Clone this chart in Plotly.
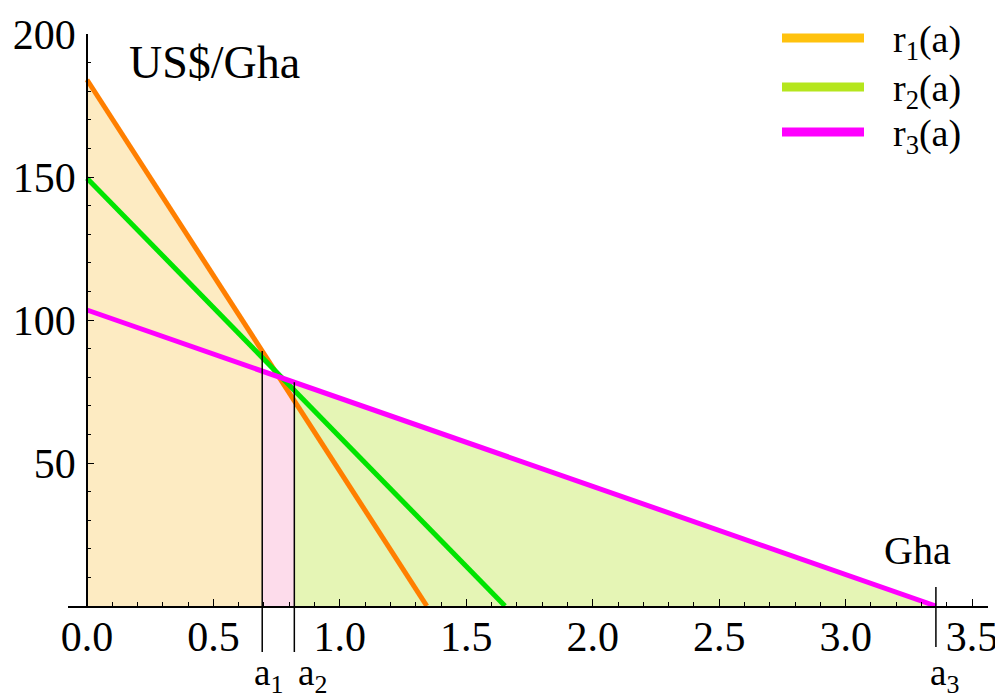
import numpy as np
import plotly.graph_objects as go

# ---- data ----
a_r1 = [0.0, 1.344]
r1 = [184.0, 0.0]
a_r2 = [0.0, 1.653]
r2 = [149.6, 0.0]
a_r3 = [0.0, 3.357]
r3 = [103.5, 0.0]

a1, a2, a3 = 0.693, 0.820, 3.357

x_tickvals = [0.0, 0.5, 1.0, 1.5, 2.0, 2.5, 3.0, 3.5]
y_tickvals = [50, 100, 150, 200]
series_names = ["r<sub>1</sub>(a)", "r<sub>2</sub>(a)", "r<sub>3</sub>(a)"]

line_colors = ["#FF7F00", "#00E400", "#FF00FF"]
legend_colors = ["#FFC20E", "#B5E61D", "#FF00FF"]
fill_colors = ["#FDEBC2", "#FDDCEB", "#E5F5B5"]

FONT = "Liberation Serif"

OFF = 8  # page body margin
W, H = 1003 - OFF, 698 - OFF
ML, MT = 68 - OFF, 34 - OFF
PLOT_W, PLOT_H = 920, 572
MR = W - ML - PLOT_W
MB = H - MT - PLOT_H

def f(a_arr, r_arr, x):
    return float(np.interp(x, a_arr, r_arr))

def px(xpix):
    return (xpix - OFF - ML) / PLOT_W

def py(ypix):
    return 1 - (ypix - OFF - MT) / PLOT_H

fig = go.Figure()

# fills
fig.add_trace(go.Scatter(x=[0, 0, a1, a1], y=[0, f(a_r1, r1, 0), f(a_r1, r1, a1), 0],
                         fill="toself", fillcolor=fill_colors[0], line=dict(width=0),
                         mode="lines", showlegend=False, hoverinfo="skip"))
fig.add_trace(go.Scatter(x=[a1, a1, a2, a2], y=[0, f(a_r3, r3, a1), f(a_r3, r3, a2), 0],
                         fill="toself", fillcolor=fill_colors[1], line=dict(width=0),
                         mode="lines", showlegend=False, hoverinfo="skip"))
fig.add_trace(go.Scatter(x=[a2, a2, a3], y=[0, f(a_r3, r3, a2), f(a_r3, r3, a3)],
                         fill="toself", fillcolor=fill_colors[2], line=dict(width=0),
                         mode="lines", showlegend=False, hoverinfo="skip"))

# lines
for ax_, ry_, c in [(a_r1, r1, line_colors[0]), (a_r2, r2, line_colors[1]), (a_r3, r3, line_colors[2])]:
    fig.add_trace(go.Scatter(x=ax_, y=ry_, mode="lines", line=dict(color=c, width=5),
                             showlegend=False))

# vertical marker lines
fig.add_shape(type="line", xref="x", yref="paper", x0=a1, x1=a1,
              y0=py(652), y1=f(a_r1, r1, a1) / 200.0, line=dict(color="black", width=1.5))
fig.add_shape(type="line", xref="x", yref="paper", x0=a2, x1=a2,
              y0=py(652), y1=f(a_r3, r3, a2) / 200.0, line=dict(color="black", width=1.5))
fig.add_shape(type="line", xref="x", yref="paper", x0=a3, x1=a3,
              y0=py(647), y1=py(587), line=dict(color="black", width=1.5))

# a labels
for xv, lab, dx in [(a1, "a<sub>1</sub>", 6), (a2, "a<sub>2</sub>", 18), (a3, "a<sub>3</sub>", 9)]:
    fig.add_annotation(x=xv, y=py(675), xref="x", yref="paper", text=lab, showarrow=False,
                       xanchor="center", yanchor="middle", xshift=dx,
                       font=dict(family=FONT, size=37, color="black"))

# axis titles as text
fig.add_annotation(x=px(214), y=py(62), xref="paper", yref="paper", text="US$/Gha",
                   showarrow=False, xanchor="center", yanchor="middle",
                   font=dict(family=FONT, size=46, color="black"))
fig.add_annotation(x=px(917), y=py(550), xref="paper", yref="paper", text="Gha",
                   showarrow=False, xanchor="center", yanchor="middle",
                   font=dict(family=FONT, size=40, color="black"))

# custom legend
leg_y = [38, 87, 132]
for i in range(3):
    yy = py(leg_y[i])
    fig.add_shape(type="line", xref="paper", yref="paper", x0=px(782), x1=px(864),
                  y0=yy, y1=yy, line=dict(color=legend_colors[i], width=9))
    fig.add_annotation(x=px(891), y=yy, xref="paper", yref="paper", xanchor="left",
                       yanchor="middle", text=series_names[i], showarrow=False, yshift=-4,
                       font=dict(family=FONT, size=38, color="black"))

fig.update_layout(
    width=W, height=H,
    margin=dict(l=ML, r=MR, t=MT, b=MB),
    plot_bgcolor="white", paper_bgcolor="white",
    showlegend=False,
    xaxis=dict(range=[-0.075, 3.563], showline=True, linecolor="black", linewidth=1.5,
               automargin=False,
               showgrid=False, zeroline=False, ticks="inside", ticklen=7, tickcolor="black",
               tickvals=x_tickvals, tickformat=".1f", ticklabelstandoff=-7,
               tickfont=dict(family=FONT, size=42, color="black"),
               minor=dict(dtick=0.1, tick0=0, ticks="inside", ticklen=4, tickcolor="black",
                          showgrid=False)),
    yaxis=dict(range=[0, 200], showline=True, linecolor="black", linewidth=1.5,
               anchor="free", position=px(87), automargin=False,
               showgrid=False, zeroline=False, ticks="inside", ticklen=6, tickcolor="black",
               tickvals=y_tickvals, ticklabelstandoff=2,
               tickfont=dict(family=FONT, size=42, color="black"),
               minor=dict(tickmode="array", tickvals=[v for v in range(10, 200, 10) if v % 50],
                          ticks="inside", ticklen=3, tickcolor="black", showgrid=False)),
)

fig.write_html("out.html")
